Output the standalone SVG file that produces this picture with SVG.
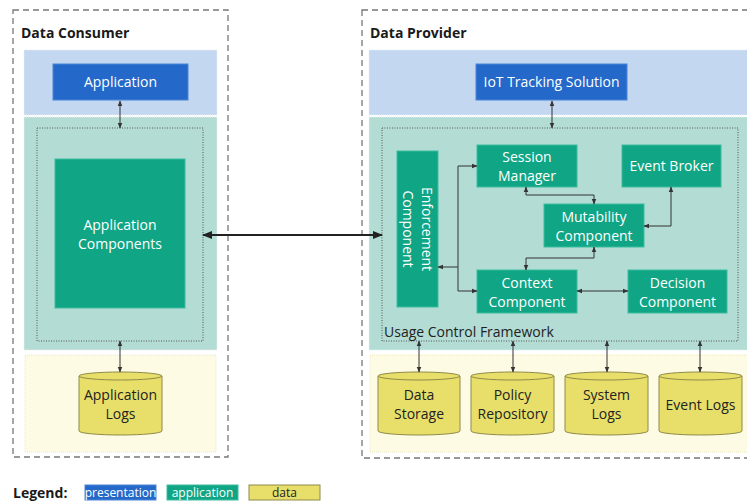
<svg xmlns="http://www.w3.org/2000/svg" width="747" height="502" viewBox="0 0 747 502">
<defs>
<style>
text{font-family:"Open Sans","Noto Sans",sans-serif;}
.title{font-size:14px;font-weight:bold;fill:#1a1a1a;}
.nt{font-size:14px;fill:#ffffff;text-anchor:middle;}
.dt{font-size:14px;fill:#222;text-anchor:middle;}
.outer{fill:none;stroke:#777;stroke-width:1.3;stroke-dasharray:6,4;}
.pres{fill:#c3d7f1;stroke:#e8eef8;stroke-width:1;stroke-dasharray:1,1;}
.appl{fill:#b3dcd4;stroke:#e8f2ef;stroke-width:1;stroke-dasharray:1,1;}
.data{fill:#fdfbe3;stroke:#ece9c4;stroke-width:1;stroke-dasharray:1,1;}
.dot{fill:none;stroke:#555;stroke-width:1;stroke-dasharray:1,1.5;}
.bn{fill:#2469c9;stroke:#4a86d6;stroke-width:1;}
.gn{fill:#0fa585;stroke:#3fbc9f;stroke-width:1;}
.cyl{fill:#e8df6a;stroke:#8f8a4a;stroke-width:1;}
.c{fill:none;stroke:#333;stroke-width:1;marker-start:url(#a);marker-end:url(#a);}
.big{fill:none;stroke:#222;stroke-width:2.2;marker-start:url(#b);marker-end:url(#b);}
</style>
<marker id="a" viewBox="0 0 10 10" refX="9" refY="5" markerWidth="6" markerHeight="6" orient="auto-start-reverse" markerUnits="userSpaceOnUse"><path d="M0,1 L10,5 L0,9 z" fill="#333"/></marker>
<marker id="b" viewBox="0 0 10 10" refX="9" refY="5" markerWidth="10" markerHeight="10" orient="auto-start-reverse" markerUnits="userSpaceOnUse"><path d="M0,1 L10,5 L0,9 z" fill="#222"/></marker>
</defs>

<g id="consumer">
<rect class="outer" x="13" y="10" width="215" height="447"/>
<text class="title" x="21" y="38">Data Consumer</text>
<rect class="pres" x="24" y="50" width="193" height="65"/>
<rect class="appl" x="24" y="117" width="193" height="233"/>
<rect class="data" x="25" y="355" width="191" height="97"/>
<rect class="dot" x="37" y="128" width="166" height="213"/>
</g>

<g id="provider">
<rect class="outer" x="362" y="10" width="400" height="448"/>
<text class="title" x="370" y="38">Data Provider</text>
<rect class="pres" x="369" y="50" width="390" height="65"/>
<rect class="appl" x="369" y="117" width="390" height="233"/>
<rect class="data" x="370" y="355" width="390" height="97"/>
<rect class="dot" x="382" y="128" width="356" height="213"/>
<text x="384" y="337" style="font-size:14px;fill:#222;">Usage Control Framework</text>
</g>

<g id="application">
<rect class="bn" x="53" y="64" width="135" height="36"/>
<text class="nt" x="120.5" y="87">Application</text>
</g>
<g id="application-components">
<rect class="gn" x="55" y="159" width="130" height="149"/>
<text class="nt" x="120" y="230">Application</text>
<text class="nt" x="120" y="249">Components</text>
</g>
<g id="application-logs">
<path class="cyl" d="M79,376 A41.5,4 0 0 1 162,376 L162,431 A41.5,4 0 0 1 79,431 Z"/>
<path d="M79,376 A41.5,4 0 0 0 162,376" fill="none" stroke="#8f8a4a" stroke-width="1"/>
<text class="dt" x="120.5" y="400">Application</text>
<text class="dt" x="120.5" y="419">Logs</text>
</g>

<g id="iot">
<rect class="bn" x="476" y="64" width="151" height="36"/>
<text class="nt" x="551.5" y="87">IoT Tracking Solution</text>
</g>
<g id="enforcement">
<rect class="gn" x="397" y="151" width="41" height="156"/>
<text class="nt" transform="translate(417.5,229) rotate(90)"><tspan x="0" y="-4">Enforcement</tspan><tspan x="0" y="15">Component</tspan></text>
</g>
<g id="session">
<rect class="gn" x="477" y="145" width="100" height="42"/>
<text class="nt" x="527" y="162">Session</text>
<text class="nt" x="527" y="181">Manager</text>
</g>
<g id="eventbroker">
<rect class="gn" x="622" y="145" width="99" height="42"/>
<text class="nt" x="671.5" y="171">Event Broker</text>
</g>
<g id="mutability">
<rect class="gn" x="544" y="204" width="100" height="43"/>
<text class="nt" x="594" y="222">Mutability</text>
<text class="nt" x="594" y="241">Component</text>
</g>
<g id="context">
<rect class="gn" x="477" y="270" width="100" height="43"/>
<text class="nt" x="527" y="288">Context</text>
<text class="nt" x="527" y="307">Component</text>
</g>
<g id="decision">
<rect class="gn" x="628" y="270" width="99" height="43"/>
<text class="nt" x="677.5" y="288">Decision</text>
<text class="nt" x="677.5" y="307">Component</text>
</g>

<g id="data-storage">
<path class="cyl" d="M378,376 A41,4 0 0 1 460,376 L460,431 A41,4 0 0 1 378,431 Z"/>
<path d="M378,376 A41,4 0 0 0 460,376" fill="none" stroke="#8f8a4a" stroke-width="1"/>
<text class="dt" x="419" y="400">Data</text>
<text class="dt" x="419" y="419">Storage</text>
</g>
<g id="policy-repository">
<path class="cyl" d="M471,376 A41.5,4 0 0 1 554,376 L554,431 A41.5,4 0 0 1 471,431 Z"/>
<path d="M471,376 A41.5,4 0 0 0 554,376" fill="none" stroke="#8f8a4a" stroke-width="1"/>
<text class="dt" x="512.5" y="400">Policy</text>
<text class="dt" x="512.5" y="419">Repository</text>
</g>
<g id="system-logs">
<path class="cyl" d="M565,376 A41.5,4 0 0 1 648,376 L648,431 A41.5,4 0 0 1 565,431 Z"/>
<path d="M565,376 A41.5,4 0 0 0 648,376" fill="none" stroke="#8f8a4a" stroke-width="1"/>
<text class="dt" x="606.5" y="400">System</text>
<text class="dt" x="606.5" y="419">Logs</text>
</g>
<g id="event-logs">
<path class="cyl" d="M659,376 A41.5,4 0 0 1 742,376 L742,431 A41.5,4 0 0 1 659,431 Z"/>
<path d="M659,376 A41.5,4 0 0 0 742,376" fill="none" stroke="#8f8a4a" stroke-width="1"/>
<text class="dt" x="700.5" y="410">Event Logs</text>
</g>

<g id="connectors">
<path class="c" d="M120,101 L120,128"/>
<path class="c" d="M120,341 L120,372"/>
<path class="big" d="M203,235 L382,235"/>
<path class="c" d="M552,101 L552,128"/>
<path class="c" d="M438,267 L458,267" style="marker-end:none"/>
<path class="c" d="M477,166 L458,166 L458,291 L477,291"/>
<path class="c" d="M526,187 L526,195 L594,195 L594,204"/>
<path class="c" d="M644,226 L671,226 L671,187"/>
<path class="c" d="M594,247 L594,258 L526,258 L526,270"/>
<path class="c" d="M577,291 L628,291"/>
<path class="c" d="M419,341 L419,372"/>
<path class="c" d="M513,341 L513,372"/>
<path class="c" d="M607,341 L607,372"/>
<path class="c" d="M700,341 L700,372"/>
</g>

<g id="legend">
<text x="13" y="498" style="font-size:14px;font-weight:bold;fill:#1a1a1a;">Legend:</text>
<rect x="85" y="485" width="71" height="15" fill="#2469c9" stroke="#4a86d6"/>
<text x="120.5" y="497" style="font-size:12px;fill:#fff;text-anchor:middle;">presentation</text>
<rect x="167" y="485" width="71" height="15" fill="#0fa585" stroke="#3fbc9f"/>
<text x="202.5" y="497" style="font-size:12px;fill:#fff;text-anchor:middle;">application</text>
<rect x="249" y="485" width="71" height="15" fill="#e8df6a" stroke="#8f8a4a"/>
<text x="284.5" y="497" style="font-size:12px;fill:#222;text-anchor:middle;">data</text>
</g>
</svg>
